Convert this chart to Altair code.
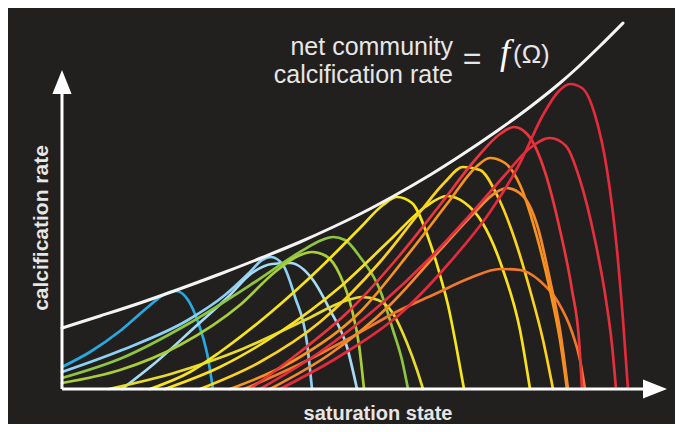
import altair as alt
import pandas as pd

# envelope: net community calcification rate = f(Omega)
envelope = [(0, 61), (38, 73), (78, 86), (112, 98), (158, 115), (199, 131), (238, 147),
            (269, 161), (300, 176), (330, 192), (368, 214), (398, 233), (435, 258),
            (468, 282), (498, 306), (515, 321), (538, 343), (561, 366)]

# individual organism curves (saturation state, calcification rate)
blue = [(0, 22), (28, 37), (58, 58), (86, 82), (103, 95), (114, 98), (126, 89), (136, 67), (145, 36), (151, 0)]
lightblue1 = [(0, 17), (60, 39), (126, 69), (163, 94), (188, 117), (200, 129), (209, 132), (221, 124), (233, 92), (245, 46), (250, 0)]
lightblue2 = [(60, 0), (93, 26), (133, 62), (166, 92), (190, 116), (210, 125), (228, 126), (251, 109), (268, 79), (285, 42), (295, 0)]
green1 = [(0, 11), (60, 31), (126, 65), (193, 107), (238, 137), (260, 149), (271, 152), (283, 149), (298, 132), (318, 99), (331, 59), (340, 29), (346, 0)]
green2 = [(0, 6), (58, 19), (118, 44), (178, 84), (213, 117), (236, 133), (250, 137), (264, 133), (278, 114), (290, 79), (297, 44), (302, 0)]
yellow_low = [(47, 0), (112, 16), (178, 39), (243, 69), (283, 88), (300, 92), (316, 89), (330, 77), (345, 46), (355, 19), (361, 0)]
yellow1 = [(88, 0), (128, 17), (158, 37), (208, 76), (258, 121), (298, 161), (321, 184), (335, 192), (350, 186), (366, 152), (378, 114), (386, 84), (394, 44), (402, 0)]
yellow2 = [(103, 0), (158, 22), (218, 57), (278, 102), (328, 149), (363, 182), (385, 193), (403, 186), (420, 167), (441, 119), (458, 59), (468, 0)]
yellow3 = [(138, 0), (198, 27), (258, 67), (318, 127), (358, 177), (383, 207), (401, 222), (418, 219), (435, 194), (453, 149), (468, 99), (481, 49), (491, 0)]
orange1 = [(168, 0), (238, 32), (298, 77), (348, 137), (388, 189), (413, 221), (428, 231), (443, 226), (458, 204), (475, 152), (488, 99), (498, 49), (505, 0)]
orange2 = [(208, 0), (268, 35), (328, 84), (378, 139), (413, 177), (433, 196), (445, 201), (461, 193), (476, 161), (488, 109), (498, 59), (506, 0)]
orange3 = [(182, 0), (238, 25), (286, 50), (338, 79), (373, 95), (408, 111), (438, 120), (458, 119), (478, 108), (496, 87), (510, 57), (518, 29), (523, 0)]
red1 = [(188, 0), (238, 37), (288, 79), (338, 134), (378, 184), (413, 229), (438, 255), (452, 262), (466, 254), (483, 217), (498, 159), (510, 99), (517, 49), (520, 0)]
red2 = [(198, 0), (258, 37), (318, 84), (368, 131), (408, 174), (443, 214), (468, 241), (488, 251), (504, 243), (518, 209), (533, 149), (544, 89), (550, 44), (554, 0)]
red3 = [(218, 0), (278, 33), (338, 75), (388, 127), (428, 177), (458, 226), (481, 274), (496, 297), (508, 305), (520, 301), (533, 274), (545, 219), (555, 139), (561, 69), (566, 0)]

curves = [
    ("blue", "#27aae1", blue),
    ("lightblue1", "#8ed1f2", lightblue1),
    ("lightblue2", "#a5dbf3", lightblue2),
    ("green1", "#8dc63f", green1),
    ("green2", "#a8cf38", green2),
    ("yellow_low", "#e8dc2a", yellow_low),
    ("yellow1", "#f5e51b", yellow1),
    ("yellow2", "#f9e11e", yellow2),
    ("yellow3", "#fbd31e", yellow3),
    ("orange3", "#f07a2a", orange3),
    ("orange1", "#f7941d", orange1),
    ("orange2", "#f58a2a", orange2),
    ("red1", "#e8363d", red1),
    ("red2", "#e3303f", red2),
    ("red3", "#e22b3b", red3),
]

X_MAX = 604
Y_MAX = 319
BG = "#221f1f"
TXT = "#e6e6e6"

rows = []
for name, col, pts in curves:
    for i, (x, y) in enumerate(pts):
        rows.append({"curve": name, "i": i, "x": x, "y": y})
df = pd.DataFrame(rows)
env_df = pd.DataFrame({"i": list(range(len(envelope))),
                       "x": [p[0] for p in envelope], "y": [p[1] for p in envelope]})
one = pd.DataFrame({"k": [0]})

xs = alt.Scale(domain=[0, X_MAX], nice=False, zero=False)
ys = alt.Scale(domain=[0, Y_MAX], nice=False, zero=False)

lines = alt.Chart(df).mark_line(interpolate="monotone", strokeWidth=2.7, strokeCap="round").encode(
    x=alt.X("x:Q", scale=xs, axis=None),
    y=alt.Y("y:Q", scale=ys, axis=None),
    detail="curve:N",
    order="i:Q",
    color=alt.Color("curve:N", scale=alt.Scale(domain=[c[0] for c in curves], range=[c[1] for c in curves]), legend=None),
)

env = alt.Chart(env_df).mark_line(interpolate="monotone", strokeWidth=3, color="#f4f4f4", strokeCap="round").encode(
    x=alt.X("x:Q", scale=xs, axis=None),
    y=alt.Y("y:Q", scale=ys, axis=None),
    order="i:Q",
)

yaxis = alt.Chart(one).mark_rule(color="white", strokeWidth=3).encode(
    x=alt.datum(0, scale=xs), y=alt.datum(0, scale=ys), y2=alt.datum(Y_MAX - 10))
xaxis = alt.Chart(one).mark_rule(color="white", strokeWidth=3).encode(
    y=alt.datum(0, scale=ys), x=alt.datum(0, scale=xs), x2=alt.datum(X_MAX - 10))
yarrow = alt.Chart(one).mark_point(shape="M0,0L-0.8,2L0.8,2Z", filled=True, size=576,
                                   color="white", opacity=1, strokeWidth=0).encode(
    x=alt.datum(0, scale=xs), y=alt.datum(Y_MAX, scale=ys))
xarrow = alt.Chart(one).mark_point(shape="M0,0L-2,-0.8L-2,0.8Z", filled=True, size=576,
                                   color="white", opacity=1, strokeWidth=0).encode(
    x=alt.datum(X_MAX + 1, scale=xs), y=alt.datum(0, scale=ys))

font = "Liberation Sans"
t1 = alt.Chart(one).mark_text(text="net community", font=font, fontSize=25, color=TXT,
                              align="right", baseline="alphabetic").encode(x=alt.value(391), y=alt.value(-15))
t2 = alt.Chart(one).mark_text(text="calcification rate", font=font, fontSize=25, color=TXT,
                              align="right", baseline="alphabetic").encode(x=alt.value(391), y=alt.value(13))
t3 = alt.Chart(one).mark_text(text="=", font=font, fontSize=32, color=TXT,
                              align="center", baseline="alphabetic").encode(x=alt.value(410), y=alt.value(-1))
t4 = alt.Chart(one).mark_text(text="f", font="Liberation Serif", fontStyle="italic", fontSize=36, color="white",
                              align="left", baseline="alphabetic").encode(x=alt.value(438), y=alt.value(-6))
t5 = alt.Chart(one).mark_text(text="(Ω)", font=font, fontSize=26, color=TXT,
                              align="left", baseline="alphabetic").encode(x=alt.value(451), y=alt.value(-7))
xl = alt.Chart(one).mark_text(text="saturation state", font=font, fontSize=20, fontWeight="bold", color=TXT,
                              align="center", baseline="alphabetic").encode(x=alt.value(316), y=alt.value(350))
yl = alt.Chart(one).mark_text(text="calcification rate", font=font, fontSize=21, fontWeight="bold", color=TXT,
                              align="center", baseline="alphabetic", angle=270).encode(x=alt.value(-14), y=alt.value(158))

chart = alt.layer(lines, env, yaxis, xaxis, yarrow, xarrow, t1, t2, t3, t4, t5, xl, yl).properties(
    width=X_MAX, height=Y_MAX,
    autosize=alt.AutoSizeParams(type="none"),
    padding={"left": 54, "top": 62, "right": 9, "bottom": 35},
    background=BG,
).configure_view(strokeWidth=0)

chart.save("out.html", embed_options={"renderer": "svg", "actions": False})
